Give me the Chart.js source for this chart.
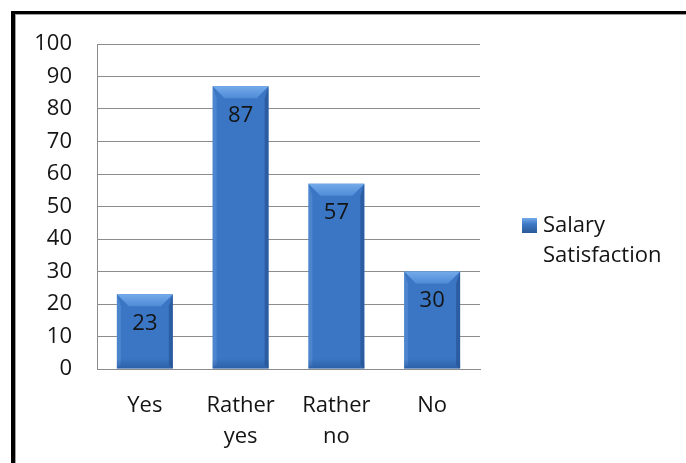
<!DOCTYPE html>
<html>
<head>
<meta charset="utf-8">
<script src="https://cdn.jsdelivr.net/npm/chart.js@4"></script>
<style>
  html, body { margin: 0; padding: 0; background: #fff; }
  #wrap { position: relative; width: 686px; height: 463px; overflow: hidden; }
  #frame { position: absolute; left: 11px; top: 11px; width: 700px; height: 500px;
           border-top: 3px solid #000; border-left: 4px solid #000;
           box-shadow: inset 1px 1px 0 #a0a0a0; }
  canvas { position: absolute; left: 0; top: 0; }
</style>
</head>
<body>
<div id="wrap">
  <div id="frame"></div>
  <canvas id="c" width="686" height="463"></canvas>
</div>
<script>
const categories = ["Yes", ["Rather", "yes"], ["Rather", "no"], "No"];
const seriesName = ["Salary", "Satisfaction"];
const salarySatisfaction = [23, 87, 57, 30];
const yTicks = [0, 10, 20, 30, 40, 50, 60, 70, 80, 90, 100];

const FONT = "'Open Sans', 'DejaVu Sans', sans-serif";
const TEXT = '#141414';
const FS = 22;

function barGradient(ctx) {
  const chart = ctx.chart;
  const el = ctx.element;
  if (!el || !chart.chartArea || !Number.isFinite(el.x) || !Number.isFinite(el.width) || el.width <= 0) return '#3a76c4';
  const half = el.width / 2;
  const g = chart.ctx.createLinearGradient(el.x - half, 0, el.x + half, 0);
  g.addColorStop(0, '#2f64ab');
  g.addColorStop(0.12, '#3a74c0');
  g.addColorStop(0.5, '#3d79c6');
  g.addColorStop(0.88, '#356eb9');
  g.addColorStop(1, '#2a5995');
  return g;
}

const bevelPlugin = {
  id: 'bevel',
  afterDatasetsDraw(chart) {
    const ctx = chart.ctx;
    const meta = chart.getDatasetMeta(0);
    ctx.save();
    meta.data.forEach((bar) => {
      const half = bar.width / 2;
      const l = bar.x - half, r = bar.x + half, t = bar.y, b = bar.base;
      if (![l, r, t, b].every(Number.isFinite)) return;
      const bv = Math.min(12, (b - t) / 3);
      let g = ctx.createLinearGradient(0, t, 0, t + bv);
      g.addColorStop(0, '#74aaea');
      g.addColorStop(1, '#4f8bd6');
      ctx.fillStyle = g;
      ctx.beginPath();
      ctx.moveTo(l, t); ctx.lineTo(r, t); ctx.lineTo(r - bv, t + bv); ctx.lineTo(l + bv, t + bv); ctx.closePath();
      ctx.fill();
      ctx.fillStyle = 'rgba(120,170,230,0.3)';
      ctx.beginPath();
      ctx.moveTo(l, t); ctx.lineTo(l + 4, t + bv); ctx.lineTo(l + 4, b - 4); ctx.lineTo(l, b); ctx.closePath();
      ctx.fill();
      ctx.fillStyle = 'rgba(20,50,100,0.35)';
      ctx.beginPath();
      ctx.moveTo(r, t); ctx.lineTo(r - 4, t + bv); ctx.lineTo(r - 4, b - 4); ctx.lineTo(r, b); ctx.closePath();
      ctx.fill();
      g = ctx.createLinearGradient(0, b - 10, 0, b);
      g.addColorStop(0, 'rgba(30,70,130,0)');
      g.addColorStop(1, 'rgba(30,70,130,0.45)');
      ctx.fillStyle = g;
      ctx.fillRect(l, b - 10, r - l, 10);
    });
    ctx.fillStyle = TEXT;
    ctx.font = FS + 'px ' + FONT;
    ctx.textAlign = 'center';
    ctx.textBaseline = 'middle';
    meta.data.forEach((bar, i) => {
      ctx.fillText(String(salarySatisfaction[i]), bar.x, bar.y + 29);
    });
    const area = chart.chartArea;
    const lx = area.right + 42, ly = 218;
    const lg = ctx.createLinearGradient(lx, ly, lx, ly + 15);
    lg.addColorStop(0, '#74aaea');
    lg.addColorStop(0.4, '#3d79c6');
    lg.addColorStop(1, '#2a5995');
    ctx.fillStyle = lg;
    ctx.fillRect(lx, ly, 15, 15);
    ctx.fillStyle = TEXT;
    ctx.textAlign = 'left';
    ctx.textBaseline = 'middle';
    seriesName.forEach((s, i) => ctx.fillText(s, lx + 21, ly + 8 + i * 30));
    ctx.restore();
  }
};

new Chart(document.getElementById('c'), {
  type: 'bar',
  data: {
    labels: categories,
    datasets: [{
      label: seriesName.join(' '),
      data: salarySatisfaction,
      backgroundColor: barGradient,
      borderWidth: 0,
      barPercentage: 0.585,
      categoryPercentage: 1
    }]
  },
  options: {
    responsive: false,
    animation: false,
    events: [],
    layout: { padding: { left: 0, top: 44, right: 206, bottom: 0 } },
    plugins: { legend: { display: false }, tooltip: { enabled: false } },
    scales: {
      y: {
        min: 0, max: 100,
        afterFit(scale) { scale.width = 97; },
        afterBuildTicks(scale) { scale.ticks = yTicks.map(v => ({ value: v })); },
        ticks: { color: TEXT, font: { family: FONT, size: FS }, padding: 25 },
        grid: { color: '#8c8c8c', lineWidth: 1, drawTicks: false },
        border: { color: '#8c8c8c' }
      },
      x: {
        afterFit(scale) { scale.height = 463 - 369; },
        ticks: { color: TEXT, font: { family: FONT, size: FS, lineHeight: 31 / FS }, padding: 21, maxRotation: 0, autoSkip: false },
        grid: { display: false, drawTicks: false },
        border: { color: '#8c8c8c' }
      }
    }
  },
  plugins: [bevelPlugin]
});
</script>
</body>
</html>
